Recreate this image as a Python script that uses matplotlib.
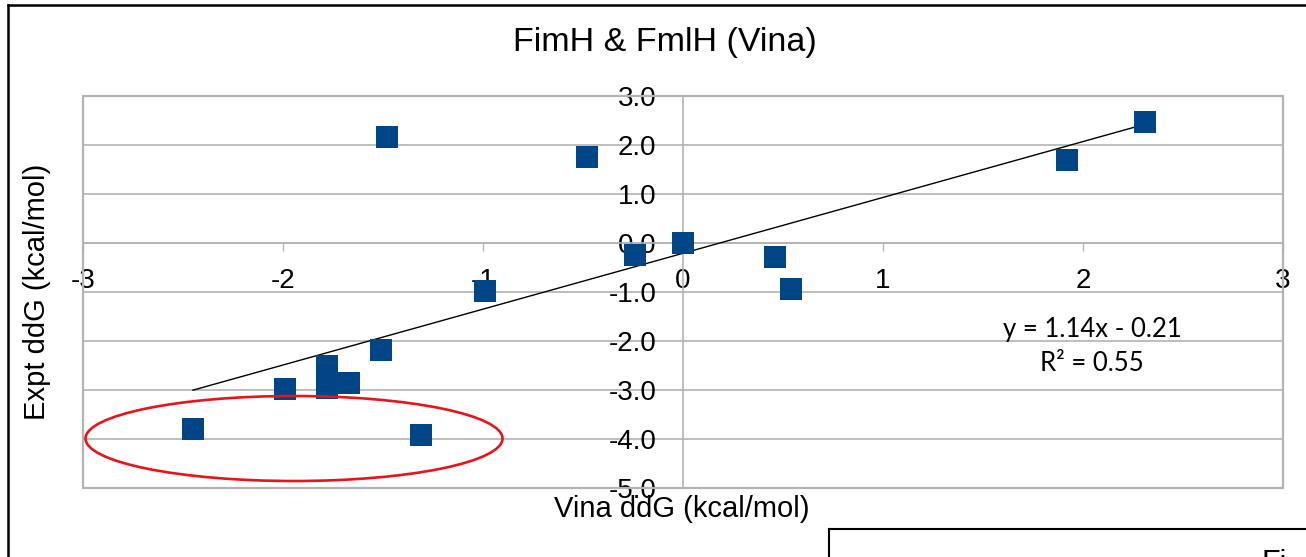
import matplotlib
matplotlib.use("Agg")
import matplotlib.pyplot as plt
from matplotlib.patches import Ellipse, Rectangle
from matplotlib.lines import Line2D
import numpy as np

plt.rcParams['font.family'] = ['Liberation Sans', 'DejaVu Sans']
plt.rcParams['axes.unicode_minus'] = False

# ---- data ----
vina_ddg = [-2.45, -1.99, -1.78, -1.78, -1.67, -1.51, -1.48, -1.31, -0.99,
            -0.48, -0.24, 0.00, 0.46, 0.54, 1.92, 2.31]
expt_ddg = [-3.80, -2.98, -2.51, -2.96, -2.86, -2.18, 2.16, -3.92, -0.98,
            1.76, -0.24, 0.00, -0.29, -0.94, 1.69, 2.47]
trend_slope = 1.14
trend_intercept = -0.21
r_squared = 0.55
x_ticks = [-3, -2, -1, 0, 1, 2, 3]
y_ticks = [3.0, 2.0, 1.0, 0.0, -1.0, -2.0, -3.0, -4.0, -5.0]
title = "FimH & FmlH (Vina)"
x_label = "Vina ddG (kcal/mol)"
y_label = "Expt ddG (kcal/mol)"
ellipse_center = (-1.945, -3.99)
ellipse_size = (2.085, 1.735)

W, H = 1306, 557
fig = plt.figure(figsize=(W / 100, H / 100), dpi=100)
fig.patch.set_facecolor('white')

ax = fig.add_axes([83 / W, 1 - 488 / H, (1283 - 83) / W, (488 - 96) / H])
ax.set_xlim(-3, 3)
ax.set_ylim(-5, 3)

grid_col = '#b3b3b3'
for s in ['top', 'right']:
    ax.spines[s].set_visible(False)
ax.spines['left'].set_position(('data', 0))
ax.spines['bottom'].set_position(('data', 0))
for s in ['left', 'bottom']:
    ax.spines[s].set_color(grid_col)
    ax.spines[s].set_linewidth(1.2)
ax.add_patch(Rectangle((0, 0), 1, 1, transform=ax.transAxes, fill=False,
                       edgecolor=grid_col, linewidth=1.6, clip_on=False, zorder=1))

ax.set_yticks(y_ticks)
ax.set_yticklabels([f"{v:.1f}" for v in y_ticks])
ax.set_xticks(x_ticks)
ax.set_xticklabels([str(v) for v in x_ticks])
ax.yaxis.grid(True, color=grid_col, linewidth=1.2)
ax.set_axisbelow(True)
ax.tick_params(axis='y', length=0, pad=19, labelsize=20)
ax.tick_params(axis='x', direction='out', length=6, width=1.0, color=grid_col,
               pad=12, labelsize=20)

# trend line
xt = np.array([min(vina_ddg), max(vina_ddg)])
ax.plot(xt, trend_slope * xt + trend_intercept, color='black', linewidth=1.0, zorder=3)

# scatter
ax.plot(vina_ddg, expt_ddg, linestyle='none', marker='s', markersize=16.5,
        markeredgewidth=0, color='#004586', zorder=4)

# red ellipse
ax.add_patch(Ellipse(ellipse_center, ellipse_size[0], ellipse_size[1], fill=False,
                     edgecolor='#e8141b', linewidth=1.9, zorder=5, clip_on=False))

# equation
ax.text(2.045, -1.76, f"y = {trend_slope:.2f}x - {abs(trend_intercept):.2f}",
        ha='center', va='center', fontsize=18.5, family=['Lato', 'DejaVu Sans'])
ax.text(2.045, -2.45, f"R² = {r_squared:.2f}", ha='center', va='center',
        fontsize=18.5, family=['Lato', 'DejaVu Sans'])

# titles
fig.text(665 / W, 1 - 42 / H, title, ha='center', va='center', fontsize=24.5)
fig.text(682 / W, 1 - 509 / H, x_label, ha='center', va='center', fontsize=21)
fig.text(37 / W, 1 - 292 / H, y_label, ha='center', va='center', fontsize=21,
         rotation=90)

# outer frame (extends beyond image)
fig.add_artist(Line2D([8 / W, 1.02], [1 - 5 / H, 1 - 5 / H], color='black',
                      linewidth=1.8, transform=fig.transFigure))
fig.add_artist(Line2D([8 / W, 8 / W], [1 - 5 / H, -0.02], color='black',
                      linewidth=1.8, transform=fig.transFigure))
# second box at bottom right
fig.add_artist(Line2D([829 / W, 1.02], [1 - 529 / H, 1 - 529 / H], color='black',
                      linewidth=1.5, transform=fig.transFigure))
fig.add_artist(Line2D([829 / W, 829 / W], [1 - 529 / H, -0.02], color='black',
                      linewidth=1.5, transform=fig.transFigure))
fig.text(1262 / W, 1 - 549 / H, "Fi", ha='left', va='top', fontsize=22)

fig.savefig("out.png", dpi=100)
